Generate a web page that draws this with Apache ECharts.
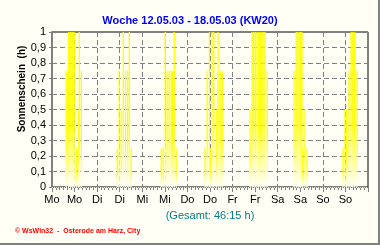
<!DOCTYPE html>
<html>
<head>
<meta charset="utf-8">
<script src="https://cdn.jsdelivr.net/npm/echarts@6/dist/echarts.min.js"></script>
<style>
html,body{margin:0;padding:0;background:#FFFFF5;}
#c{width:380px;height:245px;}
</style>
</head>
<body>
<div id="c"></div>
<script>
// Day labels at 00:00 and 12:00 of each day
const dayLabels = ['Mo','Mo','Di','Di','Mi','Mi','Do','Do','Fr','Fr','Sa','Sa','So','So'];
// Hours since Monday 00:00
const hours = [
  7.6, 8.8, 9.6, 10.2, 11.0, 11.8, 12.9, 14.0, 14.5, 15.6,
  34.7, 35.7, 36.8, 37.9, 39.1, 40.2, 41.1, 42.1,
  58.1, 59.1, 60.2, 61.2, 62.3, 63.4, 64.1, 65.0, 66.0,
  81.4, 82.5, 83.7, 84.2, 85.1, 86.0, 87.3, 88.3, 89.4, 90.5,
  105.3, 106.4, 107.2, 108.1, 109.0, 109.9, 110.8, 111.7, 112.6, 113.3, 114.4,
  128.7, 129.8, 130.6, 131.4, 132.2, 132.9, 133.3, 134.5, 135.6,
  154.7, 155.8, 156.7, 157.9, 159.0, 159.9, 160.9, 162.2
];
// Sunshine per hour (h)
const sunshine = [
  0.75, 1, 1, 1, 1, 1, 0.25, 0.5, 1, 0.75,
  0.25, 0.75, 0.5, 1, 0.75, 0.75, 1, 0.25,
  0.25, 0.25, 1, 0.75, 0.75, 0.75, 0.75, 1, 0.25,
  0.25, 0.75, 1, 0.25, 1, 1, 0.5, 1, 0.75, 0.75,
  0.5, 1, 1, 1, 1, 1, 1, 1, 1, 1, 0.75,
  0.75, 1, 1, 1, 1, 1, 0.25, 0.5, 0.25,
  0.25, 0.5, 0.5, 0.75, 1, 1, 1, 0.75
];
const titleText = 'Woche 12.05.03 - 18.05.03 (KW20)';
const totalText = '(Gesamt: 46:15 h)';
const yName = 'Sonnenschein  (h)';
const footerText = '\u00A9 WsWin32  -  Osterode am Harz, City';

const chart = echarts.init(document.getElementById('c'), null, {renderer:'canvas'});
const grad = new echarts.graphic.LinearGradient(0,0,0,1,[
  {offset:0,color:'#ffff00'},{offset:0.6,color:'#ffff00'},{offset:1,color:'#fffff5'}
]);
const font = '"Liberation Sans", Arial, sans-serif';
chart.setOption({
  backgroundColor:'#FFFFF5',
  animation:false,
  title:{
    text:titleText, left:'center', top:10,
    textStyle:{fontFamily:font, fontSize:11, fontWeight:'bold', color:'#0000ff'}
  },
  grid:{left:52, right:12, top:32, bottom:58, show:true, borderColor:'#000', borderWidth:1, backgroundColor:'transparent'},
  xAxis:{
    type:'value', min:0, max:168, interval:12,
    axisLine:{show:true, lineStyle:{color:'#808080', width:1}},
    axisTick:{show:true, length:5, lineStyle:{color:'#808080'}},
    minorTick:{show:true, splitNumber:6, length:3, lineStyle:{color:'#808080'}},
    splitLine:{show:true, lineStyle:{color:'#808080', type:[5,3], width:1}},
    axisLabel:{
      margin:7, color:'#000', fontFamily:font, fontSize:11,
      formatter:function(v){ const i=Math.round(v/12); return i<dayLabels.length ? dayLabels[i] : ''; }
    }
  },
  yAxis:{
    type:'value', min:0, max:1, interval:0.1,
    axisLine:{show:true, lineStyle:{color:'#808080', width:2}},
    axisTick:{show:true, length:3, lineStyle:{color:'#808080'}},
    splitLine:{show:true, lineStyle:{color:'#808080', type:[5,3], width:1}},
    axisLabel:{
      margin:6, color:'#000', fontFamily:font, fontSize:11,
      formatter:function(v){ return String(Math.round(v*10)/10).replace('.',','); }
    }
  },
  series:[{
    type:'bar',
    barWidth:1.3,
    data:hours.map((h,i)=>[h, sunshine[i]]),
    itemStyle:{color:grad},
    markLine:{
      silent:true, symbol:'none', label:{show:false},
      lineStyle:{color:'#ffff00', type:[1,1], width:1},
      data:[{yAxis:0}]
    }
  }],
  graphic:[
    {type:'text', x:22, y:89, rotation:Math.PI/2,
      style:{text:yName, fill:'#000', font:'bold 10px "Liberation Sans", sans-serif', align:'center', verticalAlign:'middle'}},
    {type:'text', x:210, y:216,
      style:{text:totalText, fill:'#008080', font:'11px "Liberation Sans", sans-serif', align:'center', verticalAlign:'middle'}},
    {type:'text', x:15, y:231,
      style:{text:footerText, fill:'#ff0000', font:'bold 7px "Liberation Sans", sans-serif', align:'left', verticalAlign:'middle'}},
    {type:'rect', shape:{x:0, y:243, width:380, height:2}, style:{fill:'#808080'}},
    {type:'rect', shape:{x:378, y:0, width:2, height:245}, style:{fill:'#808080'}}
  ]
});
</script>
</body>
</html>
